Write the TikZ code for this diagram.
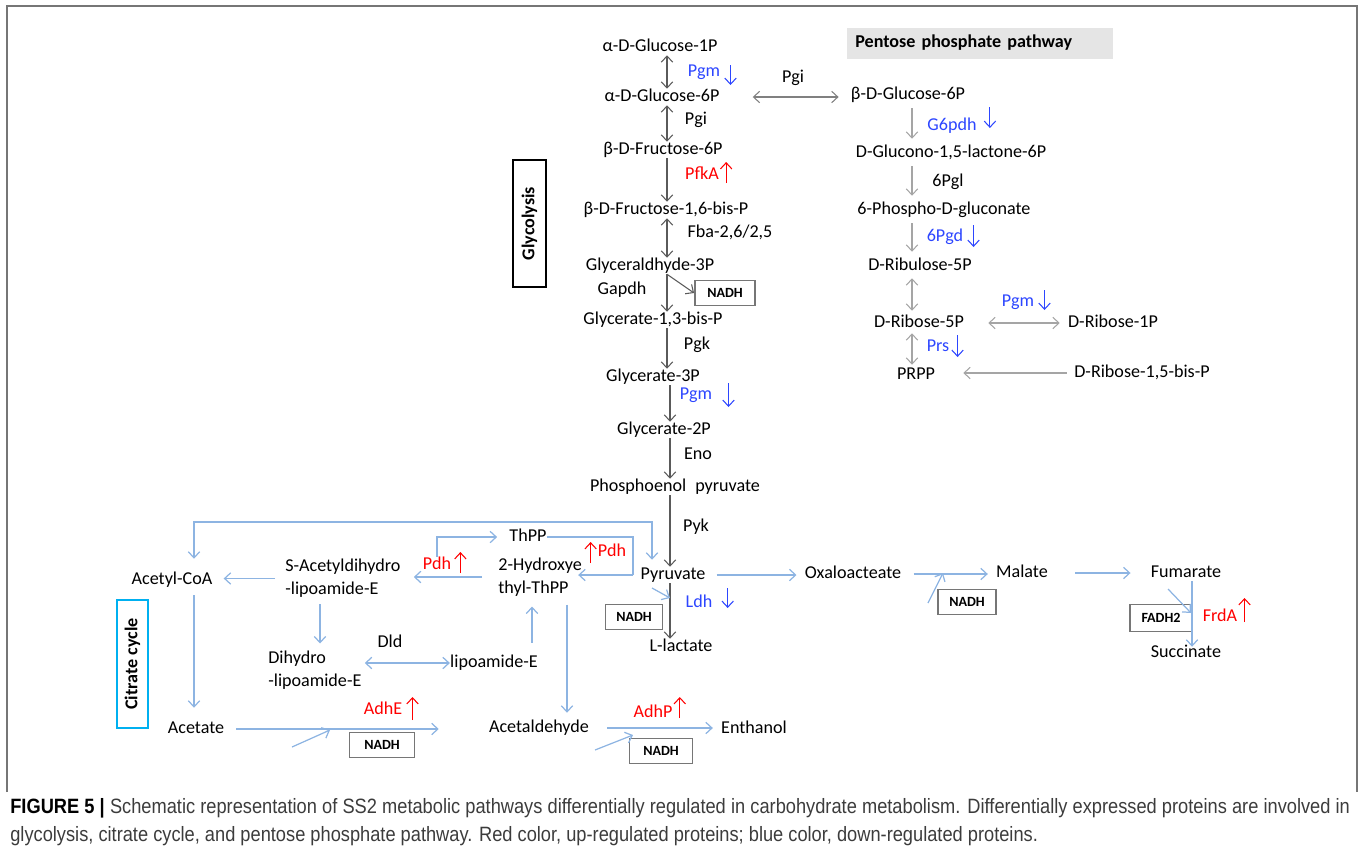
\documentclass[tikz,border=0pt]{standalone}
\usepackage{fontspec}
\setmainfont{Carlito}
\newfontfamily\capfont[FakeStretch=0.88]{Liberation Sans}
\usetikzlibrary{arrows.meta}

\definecolor{dkarr}{RGB}{90,90,90}
\definecolor{ltarr}{RGB}{165,165,165}
\definecolor{bluarr}{RGB}{141,180,226}
\definecolor{upred}{RGB}{255,0,0}
\definecolor{dnblue}{RGB}{45,70,255}
\definecolor{boxgray}{RGB}{118,118,118}
\definecolor{pentfill}{RGB}{229,229,229}
\definecolor{citcyan}{RGB}{0,176,240}
\definecolor{capgray}{RGB}{60,60,60}

\newcommand{\mfs}{\fontsize{10.3}{13}\selectfont}

\tikzset{
  met/.style={inner sep=0pt, text height=7pt, text depth=2pt, font=\mfs},
  met2/.style={inner sep=0pt, font=\mfs, align=left, anchor=west},
  upenz/.style={met, text=upred},
  dnenz/.style={met, text=dnblue},
  cofac/.style={draw=boxgray, line width=1.1pt, inner sep=0pt, minimum height=0.5cm, font=\fontsize{8}{9}\selectfont\bfseries},
  darr/.style={draw=dkarr, line width=0.6pt, ->},
  parr/.style={draw=ltarr, line width=0.6pt, ->},
  barr/.style={draw=bluarr, line width=0.7pt, ->},
  bline/.style={draw=bluarr, line width=0.7pt},
  upa/.style={draw=upred, line width=0.6pt, ->},
  dna/.style={draw=dnblue, line width=0.6pt, ->},
}

\begin{document}
\begin{tikzpicture}[x=0.02cm, y=-0.02cm, >={Straight Barb[length=3.5pt,width=6.5pt]}]
	\useasboundingbox (0,0) rectangle (1362,853);
	\draw[boxgray, line width=1.1pt] (7,792) -- (7,6) -- (1357,6) -- (1357,792);

	% glycolysis
	\coordinate (gx) at (667,0);
	\coordinate (gx2) at (670,0);
	\node[met] (g1p) at (660,47) {α-D-Glucose-1P};
	\node[met] (g6p) at (662,97) {α-D-Glucose-6P};
	\node[met] (f6p) at (663,150) {β-D-Fructose-6P};
	\node[met] (fbp) at (666,210) {β-D-Fructose-1,6-bis-P};
	\node[met] (gap) at (650,266) {Glyceraldhyde-3P};
	\node[met] (bpg) at (653,320) {Glycerate-1,3-bis-P};
	\node[met] (g3p) at (653,377) {Glycerate-3P};
	\node[met] (g2p) at (664,430) {Glycerate-2P};
	\node[met] (pep) at (675,487) {Phosphoenol\hspace{0.5em}pyruvate};
	\node[met] (pyr) at (673,575) {Pyruvate};
	\node[met] (lac) at (681,647) {L-lactate};

	\node[dnenz] (pgma) at (704,72) {Pgm};
	\node[met] (pgia) at (696,120) {Pgi};
	\node[upenz] (pfka) at (702,175) {PfkA};
	\node[met] (fba) at (730,233) {Fba-2,6/2,5};
	\node[met] (gapdh) at (622,290) {Gapdh};
	\node[met] (pgk) at (697,345) {Pgk};
	\node[dnenz] (pgmb) at (696,395) {Pgm};
	\node[met] (eno) at (698,455) {Eno};
	\node[met] (pyk) at (696,527) {Pyk};
	\node[dnenz] (ldh) at (699,603) {Ldh};
	\node[met] (pgib) at (793,78) {Pgi};

	\node[cofac, minimum width=1.2cm] (nadha) at (725,293) {NADH};

	\node[draw=black, line width=1.1pt, rotate=90, minimum width=2.54cm, minimum height=0.66cm, inner sep=0pt, font=\mfs\bfseries] (glybox) at (529.5,223.5) {Glycolysis};

	\draw[darr,<->] (g1p.south -| gx) -- (g6p.north -| gx);
	\draw[darr,<->] (g6p.south -| gx) -- (f6p.north -| gx);
	\draw[darr] (f6p.south -| gx) -- (fbp.north -| gx);
	\draw[darr,<->] (fbp.south -| gx) -- (gap.north -| gx);
	\draw[darr] (gap.south -| gx) -- (bpg.north -| gx);
	\draw[darr] (gap.south -| gx) -- (nadha.west);
	\draw[darr] (bpg.south -| gx) -- (g3p.north -| gx);
	\draw[darr] (g3p.south -| gx2) -- (g2p.north -| gx2);
	\draw[darr] (g2p.south -| gx2) -- (pep.north -| gx2);
	\draw[darr] (pep.south -| gx2) -- (pyr.north -| gx2);
	\draw[darr] (pyr.south -| gx2) -- (lac.north -| gx2);

	\draw[dna] (pgma.east) ++(10,-7) -- ++(0,20);
	\draw[upa] (pfka.east) ++(7,8) -- ++(0,-21);
	\draw[dna] (pgmb.east) ++(16,-12) -- ++(0,24);
	\draw[dna] (ldh.east) ++(15,-15) -- ++(0,20);

	% pentose phosphate pathway
	\coordinate (ppx) at (912,0);
	\node[fill=pentfill, anchor=west, text width=5.0cm, inner xsep=0.16cm, minimum height=0.62cm, align=left, font=\mfs\bfseries] (ppp) at (847,43) {Pentose phosphate pathway};
	\node[met] (bg6p) at (908,95) {β-D-Glucose-6P};
	\node[met] (glac) at (951,153) {D-Glucono-1,5-lactone-6P};
	\node[met] (pglu) at (944,210) {6-Phospho-D-gluconate};
	\node[met] (ru5p) at (920,266) {D-Ribulose-5P};
	\node[met] (r5p) at (919,323) {D-Ribose-5P};
	\node[met] (r1p) at (1113,323) {D-Ribose-1P};
	\node[met] (prpp) at (916,375) {PRPP};
	\node[met] (r15p) at (1142,373) {D-Ribose-1,5-bis-P};

	\node[dnenz] (gpdh) at (952,126) {G6pdh};
	\node[met] (pgl) at (948,182) {6Pgl};
	\node[dnenz] (pgd) at (945,237) {6Pgd};
	\node[dnenz] (pgmc) at (1018,302) {Pgm};
	\node[dnenz] (prs) at (938,347) {Prs};

	\draw[darr,draw=gray,<->,shorten <=0.66cm,shorten >=0.24cm] (g6p.east) -- (g6p.east -| bg6p.west);
	\draw[parr,shorten <=0.1cm,shorten >=0.12cm] (bg6p.south -| ppx) -- (glac.north -| ppx);
	\draw[parr,shorten <=0.1cm,shorten >=0.12cm] (glac.south -| ppx) -- (pglu.north -| ppx);
	\draw[parr,shorten <=0.1cm,shorten >=0.12cm] (pglu.south -| ppx) -- (ru5p.north -| ppx);
	\draw[parr,<->,shorten <=0.08cm,shorten >=0.08cm] (ru5p.south -| ppx) -- (r5p.north -| ppx);
	\draw[parr,<->,shorten <=0.04cm,shorten >=0.04cm] (r5p.south -| ppx) -- (prpp.north -| ppx);
	\draw[parr,<->,shorten <=0.48cm,shorten >=0.16cm] (r5p.east) -- (r5p.east -| r1p.west);
	\draw[parr,shorten <=0.14cm,shorten >=0.56cm] (r15p.west) -- (r15p.west -| prpp.east);

	\draw[dna] (gpdh.east) ++(13,-19) -- ++(0,21);
	\draw[dna] (pgd.east) ++(10,-12) -- ++(0,22);
	\draw[dna] (pgmc.east) ++(10,-12) -- ++(0,20);
	\draw[dna] (prs.east) ++(8,-12) -- ++(0,22);

	% pyruvate metabolism and citrate cycle
	\coordinate (cx) at (194,0);
	\coordinate (px) at (652,0);
	\coordinate (loopy) at (0,522);
	\coordinate (tj) at (633,575);
	\coordinate (sx) at (320,0);
	\coordinate (lx) at (532,0);
	\coordinate (hx) at (567,0);
	\coordinate (fx) at (1192,0);
	\node[met] (thpp) at (528,537) {ThPP};
	\node[met2] (hthpp) at (498,577) {2-Hydroxye\\thyl-ThPP};
	\node[met2] (sacl) at (285,578.5) {S-Acetyldihydro\\-lipoamide-E};
	\node[met] (acoa) at (172,580) {Acetyl-CoA};
	\node[met2] (dhl) at (268,670) {Dihydro\\-lipoamide-E};
	\node[met] (lipe) at (494,663) {lipoamide-E};
	\node[met] (ald) at (539,728) {Acetaldehyde};
	\node[met] (eth) at (754,729) {Enthanol};
	\node[met] (acet) at (196,729) {Acetate};
	\node[met] (oaa) at (853,574) {Oxaloacteate};
	\node[met] (mal) at (1022,573) {Malate};
	\node[met] (fum) at (1186,573) {Fumarate};
	\node[met] (suc) at (1186,653) {Succinate};

	\node[upenz] (pdha) at (437,565) {Pdh};
	\node[upenz] (pdhb) at (612,552) {Pdh};
	\node[met] (dld) at (390,643) {Dld};
	\node[upenz] (adhe) at (383,710) {AdhE};
	\node[upenz] (adhp) at (653,713) {AdhP};
	\node[upenz] (frda) at (1220,617) {FrdA};

	\node[cofac, minimum width=1.14cm] (nadhb) at (634,617) {NADH};
	\node[cofac, minimum width=1.16cm] (nadhc) at (967,602) {NADH};
	\node[cofac, minimum width=1.3cm] (nadhd) at (382,745) {NADH};
	\node[cofac, minimum width=1.26cm] (nadhe) at (661,751) {NADH};
	\node[cofac, minimum width=1.24cm, minimum height=0.54cm] (fadh) at (1161,618) {FADH2};

	\node[draw=citcyan, line width=1.3pt, rotate=90, minimum width=2.56cm, minimum height=0.62cm, inner sep=0pt, font=\mfs\bfseries] (citbox) at (132.5,664) {Citrate cycle};

	\coordinate (nba) at (652,588);
	\coordinate (nbb) at (670,598);
	\coordinate (nca) at (928,603);
	\coordinate (ncb) at (943,573);
	\coordinate (nda) at (292,747);
	\coordinate (ndb) at (330,730);
	\coordinate (nea) at (595,750);
	\coordinate (neb) at (633,735);
	\coordinate (nfa) at (1168,589);
	\coordinate (nfb) at (1191,613);

	\draw[barr,<->,shorten <=0.26cm,shorten >=0.14cm] (acoa.north -| cx) -- (cx |- loopy) -- (px |- loopy) -- (pyr.north -| px);
	\draw[bline] (thpp.east) -| (tj);
	\draw[barr,shorten >=-0.08cm] (tj) -- (hthpp.east |- tj);
	\draw[barr,shorten <=0.32cm,shorten >=0.26cm] (hthpp.west) -- (hthpp.west -| sacl.east);
	\draw[barr,shorten >=0.24cm] (pdha.north) |- (thpp.west);
	\draw[barr,shorten <=0.2cm,shorten >=0.22cm] (sacl.west) -- (sacl.west -| acoa.east);
	\draw[barr,shorten <=0.12cm,shorten >=0.14cm] (sacl.south -| sx) -- (dhl.north -| sx);
	\draw[barr,<->,shorten >=0.06cm] (lipe.west) -- (lipe.west -| dhl.east);
	\draw[barr,shorten <=0.24cm,shorten >=0.2cm] (lipe.north -| lx) -- (hthpp.south -| lx);
	\draw[barr,shorten <=0.16cm,shorten >=0.14cm] (hthpp.south -| hx) -- (ald.north -| hx);
	\draw[barr,shorten <=0.14cm,shorten >=0.26cm] (acoa.south -| cx) -- (acet.north -| cx);
	\draw[barr,shorten <=0.24cm,shorten >=1.0cm] (acet.east) -- (acet.east -| ald.west);
	\draw[barr,shorten <=0.36cm,shorten >=0.16cm] (ald.east) -- (ald.east -| eth.west);
	\draw[barr,shorten <=0.22cm,shorten >=0.16cm] (pyr.east) -- (pyr.east -| oaa.west);
	\draw[barr,shorten <=0.24cm,shorten >=0.16cm] (oaa.east) -- (oaa.east -| mal.west);
	\draw[barr,shorten <=0.54cm,shorten >=0.4cm] (mal.east) -- (mal.east -| fum.west);
	\draw[barr,shorten >=-0.04cm] (fum.south -| fx) -- (suc.north -| fx);
	\draw[barr] (nba) -- (nbb);
	\draw[barr] (nca) -- (ncb);
	\draw[barr] (nda) -- (ndb);
	\draw[barr] (nea) -- (neb);
	\draw[barr] (nfa) -- (nfb);

	\draw[upa] (pdha.east) ++(9,8) -- ++(0,-21);
	\draw[upa] (pdhb.west) ++(-7,11) -- ++(0,-21);
	\draw[upa] (adhe.east) ++(10,10) -- ++(0,-23);
	\draw[upa] (adhp.east) ++(7,5) -- ++(0,-21);
	\draw[upa] (frda.east) ++(7,5) -- ++(0,-24);

	% caption
	\node[anchor=north west, inner sep=0pt, text width=26.8cm, align=justify, text=capgray, font=\capfont\fontsize{11.8}{15.9}\selectfont] (cap) at (10,798) {\textcolor{black}{\textbf{FIGURE 5 |}} Schematic representation of SS2 metabolic pathways differentially regulated in carbohydrate metabolism. Differentially expressed proteins are involved in\linebreak glycolysis, citrate cycle, and pentose phosphate pathway. Red color, up-regulated proteins; blue color, down-regulated proteins.};
\end{tikzpicture}
\end{document}
